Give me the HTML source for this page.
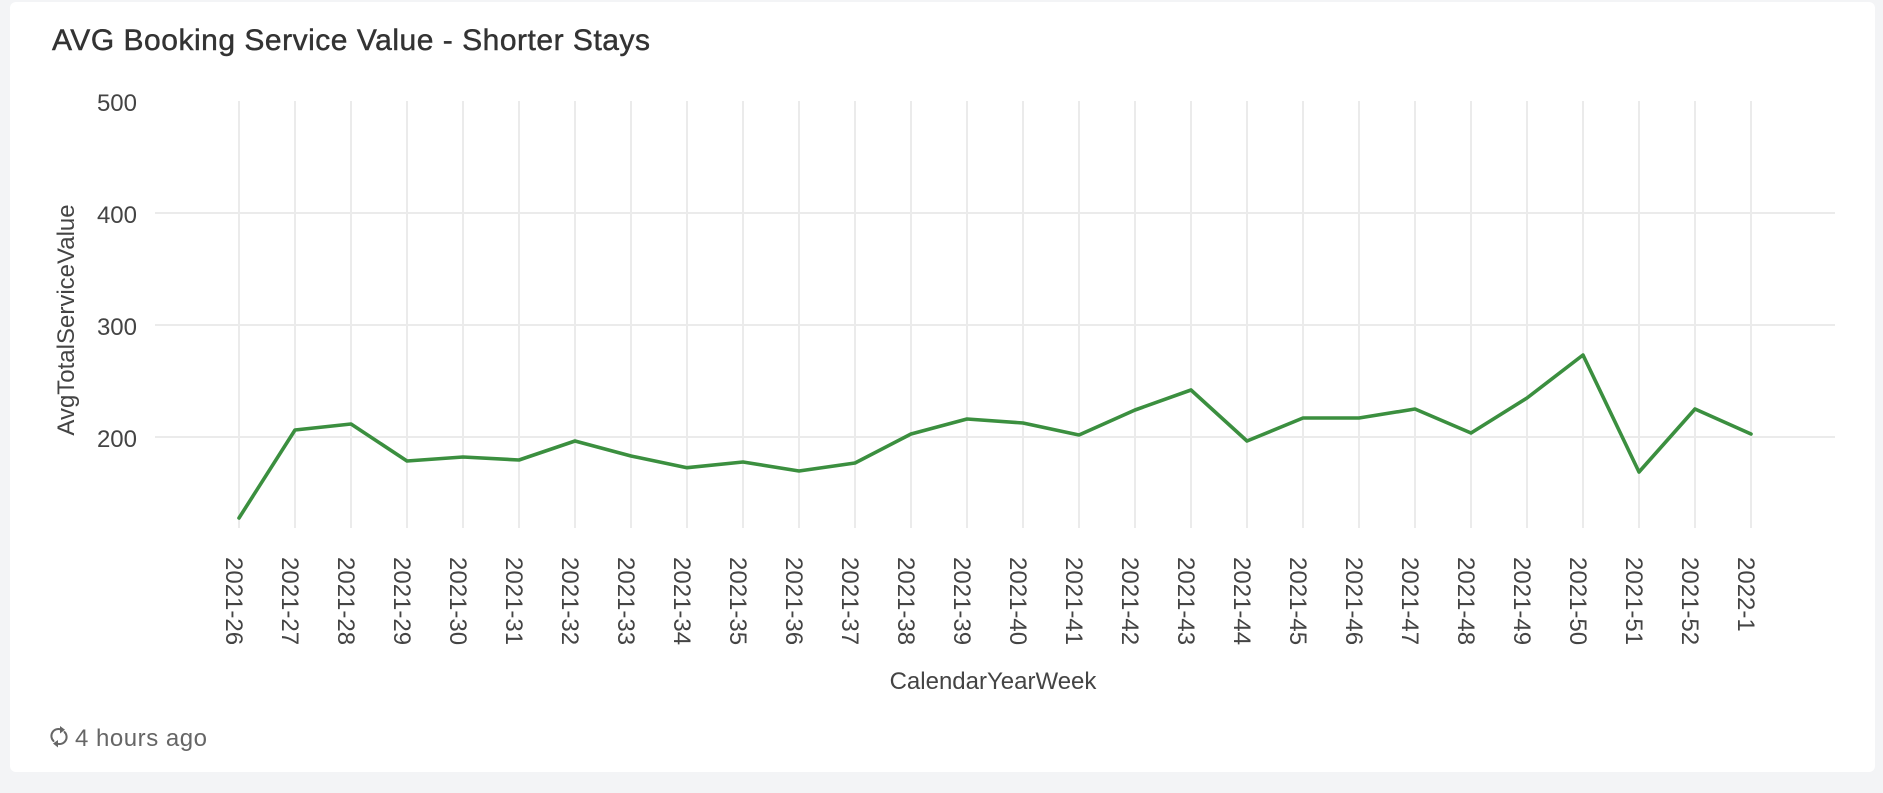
<!DOCTYPE html>
<html>
<head>
<meta charset="utf-8">
<style>
  html, body { margin:0; padding:0; }
  body { width:1883px; height:793px; background:#f3f4f6; overflow:hidden; position:relative; font-family:"Liberation Sans", sans-serif; }
  .card { position:absolute; left:10px; top:2px; width:1865px; height:770px; background:#ffffff; border-radius:6px; }
  svg { position:absolute; left:0; top:0; }
</style>
</head>
<body>
<div class="card"></div>
<svg width="1883" height="793" viewBox="0 0 1883 793" xmlns="http://www.w3.org/2000/svg" font-family="Liberation Sans, sans-serif">
  <!-- Title -->
  <text x="52" y="50" font-size="30" fill="#333333" stroke="#333333" stroke-width="0.45" textLength="598" lengthAdjust="spacing">AVG Booking Service Value - Shorter Stays</text>

  <!-- horizontal gridlines -->
  <g stroke="#ebebeb" stroke-width="2">
    <line x1="155" y1="213" x2="1835" y2="213"/>
    <line x1="155" y1="325" x2="1835" y2="325"/>
    <line x1="155" y1="437" x2="1835" y2="437"/>
  </g>
  <!-- vertical gridlines -->
  <g stroke="#ebebeb" stroke-width="2">
    <line x1="239" y1="101" x2="239" y2="528"/>
    <line x1="295" y1="101" x2="295" y2="528"/>
    <line x1="351" y1="101" x2="351" y2="528"/>
    <line x1="407" y1="101" x2="407" y2="528"/>
    <line x1="463" y1="101" x2="463" y2="528"/>
    <line x1="519" y1="101" x2="519" y2="528"/>
    <line x1="575" y1="101" x2="575" y2="528"/>
    <line x1="631" y1="101" x2="631" y2="528"/>
    <line x1="687" y1="101" x2="687" y2="528"/>
    <line x1="743" y1="101" x2="743" y2="528"/>
    <line x1="799" y1="101" x2="799" y2="528"/>
    <line x1="855" y1="101" x2="855" y2="528"/>
    <line x1="911" y1="101" x2="911" y2="528"/>
    <line x1="967" y1="101" x2="967" y2="528"/>
    <line x1="1023" y1="101" x2="1023" y2="528"/>
    <line x1="1079" y1="101" x2="1079" y2="528"/>
    <line x1="1135" y1="101" x2="1135" y2="528"/>
    <line x1="1191" y1="101" x2="1191" y2="528"/>
    <line x1="1247" y1="101" x2="1247" y2="528"/>
    <line x1="1303" y1="101" x2="1303" y2="528"/>
    <line x1="1359" y1="101" x2="1359" y2="528"/>
    <line x1="1415" y1="101" x2="1415" y2="528"/>
    <line x1="1471" y1="101" x2="1471" y2="528"/>
    <line x1="1527" y1="101" x2="1527" y2="528"/>
    <line x1="1583" y1="101" x2="1583" y2="528"/>
    <line x1="1639" y1="101" x2="1639" y2="528"/>
    <line x1="1695" y1="101" x2="1695" y2="528"/>
    <line x1="1751" y1="101" x2="1751" y2="528"/>
  </g>

  <!-- y tick labels -->
  <g font-size="24" fill="#444444" text-anchor="end">
    <text x="137" y="111">500</text>
    <text x="137" y="223">400</text>
    <text x="137" y="335">300</text>
    <text x="137" y="447">200</text>
  </g>

  <!-- y axis title -->
  <text transform="translate(74,320) rotate(-90)" font-size="24" fill="#444444" text-anchor="middle">AvgTotalServiceValue</text>

  <!-- data line -->
  <polyline fill="none" stroke="#3b8f3f" stroke-width="3.6" stroke-linejoin="round" stroke-linecap="round"
    points="239,518 295,430 351,424 407,461 463,457 519,460 575,441 631,456 687,467.7 743,462 799,471 855,463 911,434 967,419 1023,423 1079,435 1135,410 1191,390 1247,441 1303,418 1359,418 1415,409 1471,433 1527,398 1583,355 1639,472 1695,409 1751,434"/>

  <!-- x tick labels -->
  <g font-size="24" fill="#444444">
    <text transform="translate(226,557) rotate(90)">2021-26</text>
    <text transform="translate(282,557) rotate(90)">2021-27</text>
    <text transform="translate(338,557) rotate(90)">2021-28</text>
    <text transform="translate(394,557) rotate(90)">2021-29</text>
    <text transform="translate(450,557) rotate(90)">2021-30</text>
    <text transform="translate(506,557) rotate(90)">2021-31</text>
    <text transform="translate(562,557) rotate(90)">2021-32</text>
    <text transform="translate(618,557) rotate(90)">2021-33</text>
    <text transform="translate(674,557) rotate(90)">2021-34</text>
    <text transform="translate(730,557) rotate(90)">2021-35</text>
    <text transform="translate(786,557) rotate(90)">2021-36</text>
    <text transform="translate(842,557) rotate(90)">2021-37</text>
    <text transform="translate(898,557) rotate(90)">2021-38</text>
    <text transform="translate(954,557) rotate(90)">2021-39</text>
    <text transform="translate(1010,557) rotate(90)">2021-40</text>
    <text transform="translate(1066,557) rotate(90)">2021-41</text>
    <text transform="translate(1122,557) rotate(90)">2021-42</text>
    <text transform="translate(1178,557) rotate(90)">2021-43</text>
    <text transform="translate(1234,557) rotate(90)">2021-44</text>
    <text transform="translate(1290,557) rotate(90)">2021-45</text>
    <text transform="translate(1346,557) rotate(90)">2021-46</text>
    <text transform="translate(1402,557) rotate(90)">2021-47</text>
    <text transform="translate(1458,557) rotate(90)">2021-48</text>
    <text transform="translate(1514,557) rotate(90)">2021-49</text>
    <text transform="translate(1570,557) rotate(90)">2021-50</text>
    <text transform="translate(1626,557) rotate(90)">2021-51</text>
    <text transform="translate(1682,557) rotate(90)">2021-52</text>
    <text transform="translate(1738,557) rotate(90)">2022-1</text>
  </g>

  <!-- x axis title -->
  <text x="993" y="689" font-size="24" fill="#444444" text-anchor="middle">CalendarYearWeek</text>

  <!-- footer refresh icon -->
  <g stroke="#666666" stroke-width="2" fill="none" stroke-linecap="round">
    <path d="M53.5,741 A7,7 0 0 1 61,729.5"/>
    <path d="M64.5,732 A7,7 0 0 1 57,743.5"/>
  </g>
  <g fill="#666666">
    <polygon points="60,726 65,729.8 60,733.5"/>
    <polygon points="58,740 53,743.5 58,747.5"/>
  </g>
  <text x="75" y="746" font-size="24" fill="#666666" textLength="132" lengthAdjust="spacing">4 hours ago</text>
</svg>
</body>
</html>
